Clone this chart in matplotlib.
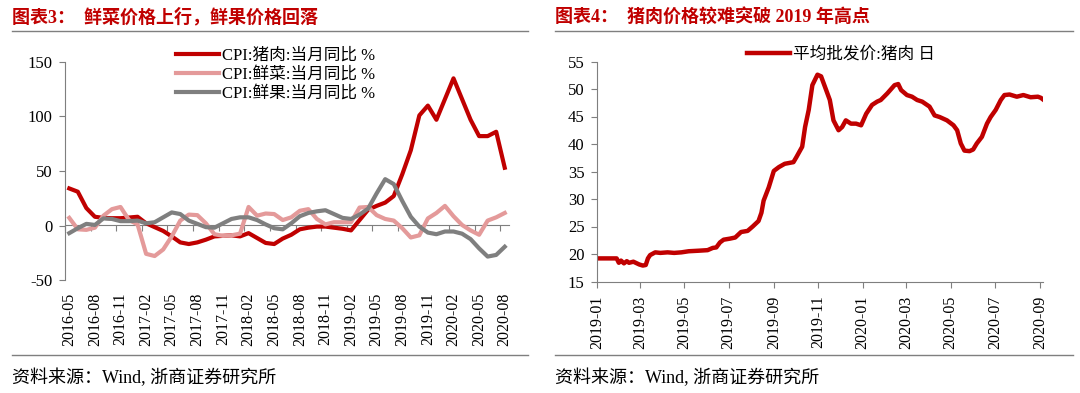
import matplotlib
matplotlib.use('Agg')
import matplotlib.pyplot as plt
from matplotlib.lines import Line2D
import pandas as pd

plt.rcParams['font.family'] = ['Liberation Serif', 'Noto Sans CJK SC']
plt.rcParams['axes.unicode_minus'] = False

# 图表3 数据: 2016-05 .. 2020-08, 当月同比 %
months = list(pd.period_range('2016-05', '2020-08', freq='M').strftime('%Y-%m'))
pork = [34, 31, 16, 8, 7, 6.7, 6.7, 7.3, 8, 2, -1.5, -5, -10, -15.5, -17, -15.5,
        -13, -10, -9.5, -9, -10, -7, -11.5, -16, -17, -12, -8.5, -3.5, -2, -1, -1, -2,
        -3, -4.5, 5, 14.5, 18, 21, 27, 47, 69, 101, 110, 97, 116, 135, 116, 97,
        82, 82, 86, 53]
veg = [7, -3.5, -4, -2, 9, 15, 17, 5, 1, -26, -28, -22, -10, 4.5, 10, 9.5,
       2, -8, -9.5, -9, -7.5, 17, 9, 11, 10.5, 5, 7.5, 13.5, 15, 6, 1, 3,
       3, 3, 16.5, 17, 9.5, 6, 4.5, -2.5, -11, -9, 6.5, 11.5, 18, 8.5, 0.5, -4.5,
       -8.5, 4.5, 7.5, 11.5]
fruit = [-7, -2.5, 1.5, 0.5, 6.5, 6, 4, 4, 4.5, 2, 3, 7.5, 12, 10.5, 4.5, 1.5,
         -1.5, -2, 2, 6, 7.5, 7.5, 5, 1, -2.5, -3.5, 2, 8.5, 11.5, 13, 14, 10.5,
         7, 6, 10, 15.5, 29.5, 42.5, 38, 22.5, 8, -1, -6.5, -8, -5.5, -5.5, -7.5, -12.5,
         -21, -28.5, -27, -19.5]

# 图表4 数据: 平均批发价:猪肉 (元/公斤)
price_dates = ['2019-01-01', '2019-01-15', '2019-01-28', '2019-01-31', '2019-02-03',
               '2019-02-07', '2019-02-11', '2019-02-14', '2019-02-20', '2019-02-28',
               '2019-03-05', '2019-03-09', '2019-03-12', '2019-03-15', '2019-03-22',
               '2019-03-29', '2019-04-08', '2019-04-17', '2019-04-27', '2019-05-07',
               '2019-05-21', '2019-06-02', '2019-06-09', '2019-06-14', '2019-06-19',
               '2019-06-24', '2019-07-03', '2019-07-10', '2019-07-18', '2019-07-27',
               '2019-08-03', '2019-08-11', '2019-08-15', '2019-08-18', '2019-08-25',
               '2019-09-01', '2019-09-08', '2019-09-16', '2019-09-28', '2019-10-02',
               '2019-10-10', '2019-10-14', '2019-10-19', '2019-10-24', '2019-10-31',
               '2019-11-05', '2019-11-12', '2019-11-17', '2019-11-22', '2019-11-29',
               '2019-12-04', '2019-12-09', '2019-12-16', '2019-12-23', '2019-12-30',
               '2020-01-06', '2020-01-14', '2020-01-21', '2020-01-26', '2020-02-04',
               '2020-02-14', '2020-02-19', '2020-02-23', '2020-03-02', '2020-03-09',
               '2020-03-16', '2020-03-23', '2020-04-02', '2020-04-09', '2020-04-16',
               '2020-04-26', '2020-05-05', '2020-05-10', '2020-05-15', '2020-05-20',
               '2020-05-27', '2020-06-01', '2020-06-06', '2020-06-13', '2020-06-20',
               '2020-06-25', '2020-07-02', '2020-07-09', '2020-07-14', '2020-07-21',
               '2020-07-31', '2020-08-09', '2020-08-19', '2020-08-29', '2020-09-02',
               '2020-09-05']
price = [19.2, 19.2, 19.2, 18.4, 18.8, 18.3, 18.7, 18.4, 18.6, 18.1,
         17.9, 18.0, 19.2, 19.8, 20.3, 20.2, 20.3, 20.2, 20.3, 20.5,
         20.6, 20.7, 21.1, 21.2, 22.1, 22.6, 22.8, 23.0, 24.0, 24.2,
         25.0, 26.0, 27.5, 29.7, 32.1, 35.1, 35.8, 36.4, 36.7, 37.6,
         39.5, 43.1, 46.2, 50.7, 52.6, 52.3, 49.8, 48.0, 44.3, 42.5,
         43.1, 44.3, 43.7, 43.7, 43.4, 45.5, 47.1, 47.7, 48.0, 49.2,
         50.7, 50.9, 49.8, 48.9, 48.6, 48.0, 47.7, 46.8, 45.2, 44.9,
         44.3, 43.4, 42.5, 40.1, 38.8, 38.7, 39.0, 40.1, 41.3, 43.7,
         44.9, 46.2, 48.0, 48.9, 49.0, 48.6, 48.9, 48.5, 48.6, 48.4,
         48.1]

RED = '#C00000'
PINK = '#E49A9A'
GRAY = '#7F7F7F'
W, H = 1080, 393

fig = plt.figure(figsize=(10.8, 3.93), dpi=100)

# 标题与分隔线
fig.text(12 / W, 1 - 17 / H, '图表3：  鲜菜价格上行，鲜果价格回落', color=RED,
         fontsize=13, fontweight='bold', va='center', ha='left')
fig.text(555 / W, 1 - 17 / H, '图表4：  猪肉价格较难突破 2019 年高点', color=RED,
         fontsize=13, fontweight='bold', va='center', ha='left')
for x0, x1 in [(12, 528), (555, 1073)]:
    fig.add_artist(Line2D([x0 / W, x1 / W], [1 - 31 / H] * 2, color=GRAY, lw=1))
    fig.add_artist(Line2D([x0 / W, x1 / W], [1 - 355 / H] * 2, color=GRAY, lw=1))
fig.text(12 / W, 1 - 378 / H, '资料来源：Wind, 浙商证券研究所', fontsize=13,
         va='center', ha='left')
fig.text(555 / W, 1 - 378 / H, '资料来源：Wind, 浙商证券研究所', fontsize=13,
         va='center', ha='left')

# 左图
ax1 = fig.add_axes([65 / W, (H - 280) / H, 444 / W, 218 / H])
x = range(len(months))
ax1.plot(x, pork, color=RED, lw=3, label='CPI:猪肉:当月同比 %')
ax1.plot(x, veg, color=PINK, lw=3, label='CPI:鲜菜:当月同比 %')
ax1.plot(x, fruit, color=GRAY, lw=3, label='CPI:鲜果:当月同比 %')
ax1.set_xlim(-0.5, len(months) - 0.5)
ax1.set_ylim(-50, 150)
ax1.set_yticks([-50, 0, 50, 100, 150])
ax1.set_xticks(range(0, len(months), 3))
ax1.set_xticklabels(months[::3], rotation=90)
ax1.tick_params(axis='x', length=0, pad=9, labelsize=11.5)
ax1.tick_params(axis='y', length=4, color=GRAY, pad=5, labelsize=12)
for s in ['top', 'right', 'bottom']:
    ax1.spines[s].set_visible(False)
ax1.spines['left'].set_color(GRAY)
# 零轴 (类别轴在 0 处相交)
zero = ax1.secondary_xaxis(50 / 200)
zero.set_xticks([b - 0.5 for b in range(0, len(months), 3)])
zero.set_xticklabels([])
zero.tick_params(length=4, color=GRAY, direction='out')
zero.spines['bottom'].set_color(GRAY)
ax1.legend(loc='upper left', bbox_to_anchor=(0.25, 1.066), frameon=False,
           fontsize=12, handlelength=2.6, handletextpad=0.15, labelspacing=0.18,
           borderpad=0, borderaxespad=0)

# 右图
ax2 = fig.add_axes([597 / W, (H - 281.5) / H, 446 / W, 220 / H])
ax2.plot(pd.to_datetime(price_dates), price, color=RED, lw=3.2, label='平均批发价:猪肉 日')
ax2.set_ylim(15, 55)
ax2.set_yticks(range(15, 56, 5))
ax2.set_xlim(pd.Timestamp('2019-01-01'), pd.Timestamp('2020-09-05'))
xt = pd.date_range('2019-01-01', '2020-09-01', freq='2MS')
ax2.set_xticks(xt)
ax2.set_xticklabels([d.strftime('%Y-%m') for d in xt], rotation=90)
ax2.tick_params(axis='x', length=4, color=GRAY, pad=6, labelsize=11.5)
ax2.tick_params(axis='y', length=4, color=GRAY, pad=5, labelsize=12)
for s in ['top', 'right']:
    ax2.spines[s].set_visible(False)
ax2.spines['left'].set_color(GRAY)
ax2.spines['bottom'].set_color(GRAY)
ax2.legend(loc='upper left', bbox_to_anchor=(0.336, 1.066), frameon=False,
           fontsize=12, handlelength=2.6, handletextpad=0.15,
           borderpad=0, borderaxespad=0)

fig.savefig('out.png', dpi=100)
